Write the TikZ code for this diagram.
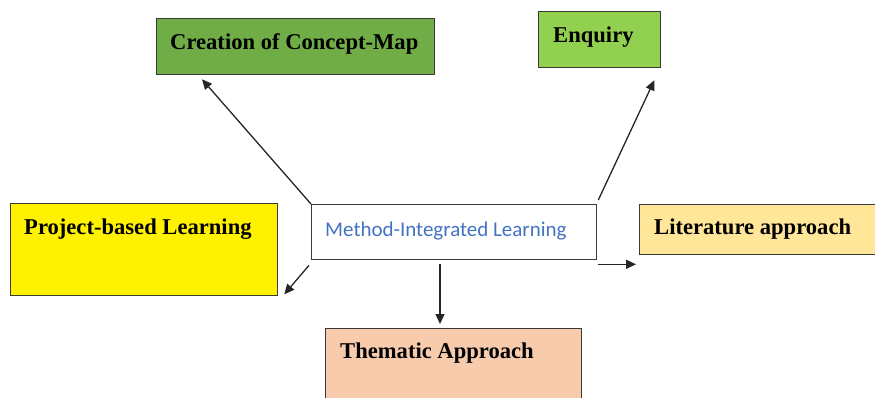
\documentclass[tikz,border=0pt]{standalone}
\usepackage{fontspec}
\setmainfont{Liberation Serif}
\newfontfamily\calib{Carlito}
\usetikzlibrary{calc,arrows.meta}
\definecolor{cgreen}{HTML}{70AD47}
\definecolor{lgreen}{HTML}{92D050}
\definecolor{lorange}{HTML}{FFE699}
\definecolor{peach}{HTML}{F8CBAD}
\definecolor{mblue}{HTML}{4472C4}
\definecolor{edgegray}{HTML}{3A3A3A}
\tikzset{
  box/.style={draw=edgegray, line width=1.3pt, inner sep=0pt, anchor=north west},
  lbl/.style={inner sep=0pt, anchor=west, font=\fontsize{22.6}{24}\selectfont\bfseries},
  conn/.style={draw=black!85, line width=1.3pt, -{Triangle[length=10pt,width=9pt]}}
}
\begin{document}
\begin{tikzpicture}[x=1pt,y=-1pt]
\useasboundingbox (0,0) rectangle (875,398);
\node[box, fill=cgreen, minimum width=278pt, minimum height=56pt] (concept) at (156,18) {};
\node[box, fill=lgreen, minimum width=122pt, minimum height=56pt] (enquiry) at (538,11) {};
\node[box, fill=yellow, minimum width=267pt, minimum height=92pt] (project) at (10,203) {};
\node[box, fill=white, minimum width=285pt, minimum height=55pt] (method) at (311,204) {};
\node[box, fill=lorange, minimum width=245pt, minimum height=50pt] (literature) at (639,204) {};
\node[box, fill=peach, minimum width=256pt, minimum height=80pt] (thematic) at (325,328) {};
\node[lbl] (tconcept) at (170,44) {Creation of Concept-Map};
\node[lbl] (tenquiry) at (553,37) {Enquiry};
\node[lbl] (tproject) at (24,229) {Project-based Learning};
\node[lbl, font=\calib\fontsize{21}{23}\selectfont, text=mblue] (tmethod) at (325,231) {Method-Integrated Learning};
\node[lbl] (tliterature) at (654,229) {Literature approach};
\node[lbl] (tthematic) at (340,353) {Thematic Approach};
\coordinate (cend) at ($(concept.south west)+(46,4)$);
\coordinate (eend) at ($(enquiry.south east)+(-7,12)$);
\coordinate (pend) at ($(project.south east)+(6,-2)$);
\coordinate (mstart) at ($(method.north east)+(1,-4)$);
\coordinate (pstart) at ($(method.south west)+(-2,5)$);
\coordinate (tstart) at ($(method.south west)+(129,4)$);
\coordinate (tend) at ($(thematic.north west)+(115,-4)$);
\coordinate (lstart) at ($(method.south east)+(1,4)$);
\coordinate (lend) at ($(literature.west)+(-3,0)$);
\draw[conn] (method.north west) -- (cend);
\draw[conn] (mstart) -- (eend);
\draw[conn] (pstart) -- (pend);
\draw[conn] (tstart) -- (tend);
\draw[conn] (lstart) -- (lstart -| lend);
\end{tikzpicture}
\end{document}
